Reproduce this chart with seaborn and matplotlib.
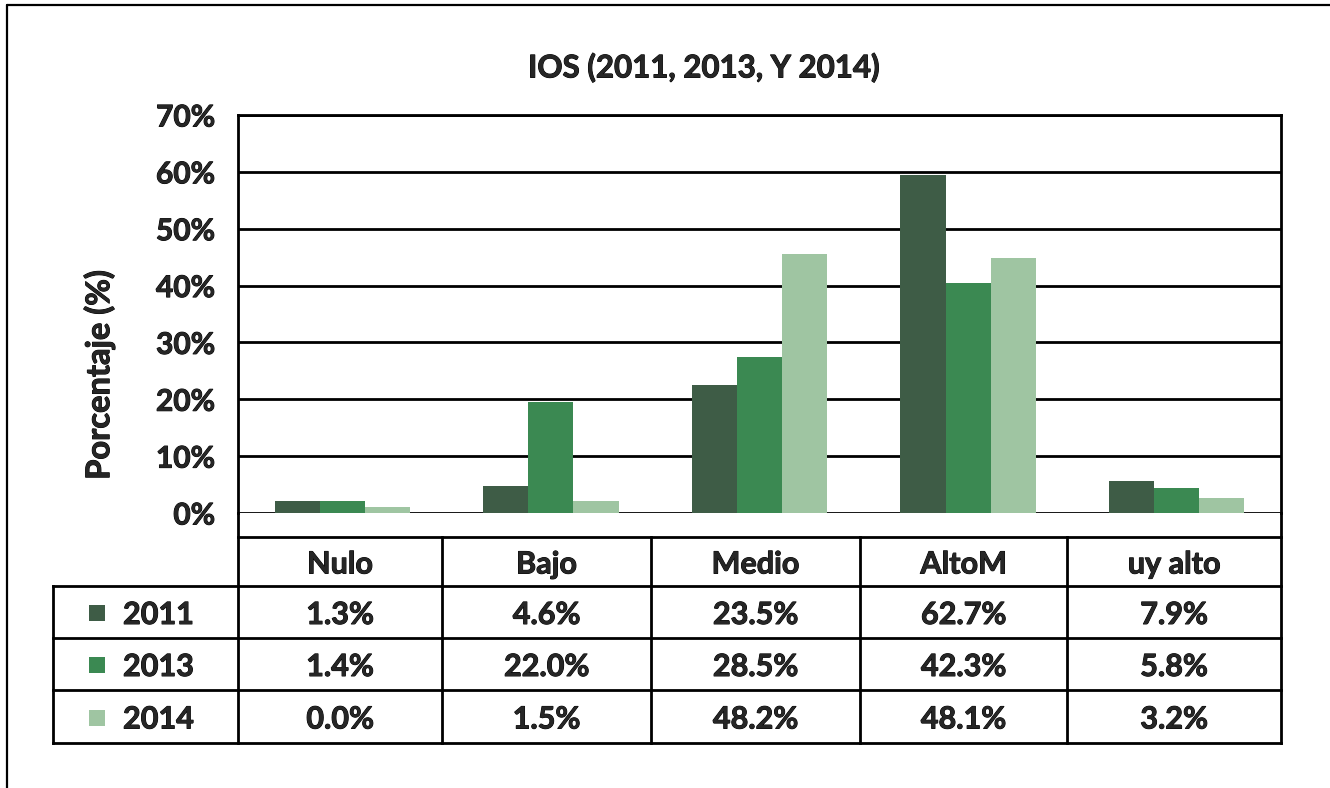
import matplotlib
matplotlib.use("Agg")
import matplotlib.pyplot as plt
from matplotlib.lines import Line2D
from matplotlib.patches import Rectangle
import matplotlib.patheffects as pe
import seaborn as sns
import pandas as pd

# ---- data ----
categories = ["Nulo", "Bajo", "Medio", "AltoM", "uy alto"]
years = ["2011", "2013", "2014"]
# bar heights as drawn in the picture (%)
bars_2011 = [2.1, 4.7, 22.5, 59.5, 5.6]
bars_2013 = [2.1, 19.5, 27.4, 40.4, 4.4]
bars_2014 = [1.0, 2.1, 45.5, 44.8, 2.6]
# values printed in the data table
table_2011 = ["1.3%", "4.6%", "23.5%", "62.7%", "7.9%"]
table_2013 = ["1.4%", "22.0%", "28.5%", "42.3%", "5.8%"]
table_2014 = ["0.0%", "1.5%", "48.2%", "48.1%", "3.2%"]
yticks = [0, 10, 20, 30, 40, 50, 60, 70]
title = "IOS (2011, 2013, Y 2014)"
ylabel = "Porcentaje (%)"
colors = ["#3E5C46", "#3B8952", "#9FC5A2"]

df = pd.DataFrame({
    "cat": categories * 3,
    "year": [y for y in years for _ in categories],
    "val": bars_2011 + bars_2013 + bars_2014,
})

sns.set_style("white")
plt.rcParams["font.family"] = ["Lato", "DejaVu Sans"]
WT = "bold"
HEAVY = [pe.withStroke(linewidth=0.7, foreground="black")]

W, H = 1330, 788
fig = plt.figure(figsize=(W / 100, H / 100), dpi=100)

def fx(px):
    return px / W

def fy(py):
    return 1 - py / H

x0, x1 = 238, 1281
ytop, ybot = 115, 513
ax = fig.add_axes([fx(x0), fy(ybot), fx(x1) - fx(x0), fy(ytop) - fy(ybot)])
sns.barplot(data=df, x="cat", y="val", hue="year", order=categories,
            hue_order=years, palette=colors, width=0.65, saturation=1,
            legend=False, linewidth=0, ax=ax)
ax.set_ylim(0, 70)
ax.set_xlim(-0.5, len(categories) - 0.5)
ax.set_yticks(yticks)
ax.set_yticklabels([f"{t}%" for t in yticks], fontsize=21.5, fontweight=WT)
for t in ax.get_yticklabels():
    t.set_path_effects(HEAVY)
ax.tick_params(axis="y", length=0, pad=16.5)
ax.set_xticks([])
ax.set_xlabel("")
ax.set_ylabel("")
ax.set_axisbelow(True)
ax.yaxis.grid(True, color="black", linewidth=2.0)
for s in ["left", "right", "top"]:
    ax.spines[s].set_visible(True)
    ax.spines[s].set_color("black")
    ax.spines[s].set_linewidth(2.0)
ax.spines["bottom"].set_visible(False)

fig.text(fx(99), fy(375), ylabel, rotation=90, ha="center", va="center",
         fontsize=23.5, fontweight=WT, path_effects=HEAVY)
fig.text(fx(704), fy(68), title, ha="center", va="center",
         fontsize=22.5, fontweight=WT, path_effects=HEAVY)

# ---- data table ----
lw = 2.0
def hline(y, xa, xb):
    fig.add_artist(Line2D([fx(xa), fx(xb)], [fy(y), fy(y)], color="black",
                          lw=lw, solid_capstyle="projecting"))

def vline(x, ya, yb):
    fig.add_artist(Line2D([fx(x), fx(x)], [fy(ya), fy(yb)], color="black",
                          lw=lw, solid_capstyle="projecting"))

col_edges = [238, 442, 651, 860, 1067, 1281]
row_edges = [537, 586, 638, 690, 743]
tab_left = 53
vline(x0, ybot, row_edges[-1])
vline(x1, ybot, row_edges[-1])
hline(row_edges[0], x0, x1)
for r in row_edges[1:]:
    hline(r, tab_left, x1)
vline(tab_left, row_edges[1], row_edges[-1])
for c in col_edges[1:-1]:
    vline(c, row_edges[0], row_edges[-1])

fs_tab = 22
dy = 3
centers = [(col_edges[i] + col_edges[i + 1]) / 2 for i in range(len(categories))]
hy = (row_edges[0] + row_edges[1]) / 2 + dy
for cx, name in zip(centers, categories):
    fig.text(fx(cx), fy(hy), name, ha="center", va="center",
             fontsize=fs_tab, fontweight=WT, path_effects=HEAVY)

rows = [table_2011, table_2013, table_2014]
for i, (yr, vals, col) in enumerate(zip(years, rows, colors)):
    cy = (row_edges[i + 1] + row_edges[i + 2]) / 2
    fig.add_artist(Rectangle((fx(89), fy(cy + 9)), fx(16), 16 / H,
                             facecolor=col, edgecolor="none"))
    fig.text(fx(123), fy(cy + dy), yr, ha="left", va="center",
             fontsize=fs_tab, fontweight=WT, path_effects=HEAVY)
    for cx, v in zip(centers, vals):
        fig.text(fx(cx), fy(cy + dy), v, ha="center", va="center",
                 fontsize=fs_tab, fontweight=WT, path_effects=HEAVY)

# outer frame (top and left edges visible)
fig.add_artist(Line2D([fx(7), fx(7)], [fy(5), 0], color="black", lw=1.6))
fig.add_artist(Line2D([fx(7), 1], [fy(5), fy(5)], color="black", lw=1.6))

fig.savefig("out.png", dpi=100)
